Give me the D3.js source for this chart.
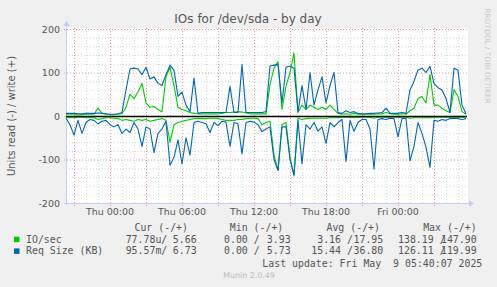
<!DOCTYPE html>
<html>
<head>
<meta charset="utf-8">
<script src="https://cdn.jsdelivr.net/npm/d3@7"></script>
<style>
    body { margin: 0; background: #f0f0f0; }
    text { font-family: "DejaVu Sans", sans-serif; }
    .mono { font-family: "DejaVu Sans Mono", monospace; font-size: 9.9px; fill: #555; }
</style>
</head>
<body>
<div id="chart"></div>
<script>
// samples every 20 minutes, Wed 20:20 -> Fri 05:40
const startTime = new Date(2025, 4, 7, 20, 20);
const endTime = new Date(2025, 4, 9, 5, 40);
const stepMinutes = 20;

// write (+) side
const writeIO = [4,4,4,3,3,4,4,4,18,6,4,3,3,4,
    5,20,50,40,55,75,30,20,22,15,10,
    90,112,70,20,15,12,8,6,5,
    5,5,5,5,5,6,8,8,9,10,9,7,5,5,5,5,
    5,72,110,125,15,68,100,145,8,25,15,25,20,15,20,15,25,15,6,4,5,4,6,4,4,
    4,4,4,5,5,8,5,4,4,5,4,12,18,40,45,30,95,25,25,18,12,8,60,45,10,4];
const writeSize = [6,6,6,5,5,6,6,6,7,6,5,4,4,5,
    8,60,108,110,108,95,112,85,90,75,70,
    95,117,105,45,55,25,10,87,6,
    8,8,8,8,8,8,8,68,8,8,118,8,8,8,8,8,
    10,115,117,118,30,112,115,110,10,70,15,100,25,60,90,30,70,100,8,6,12,8,10,6,5,
    5,6,6,7,8,18,6,6,6,8,6,60,80,106,110,100,114,75,65,60,40,8,110,105,25,5];

// read (-) side, stored as magnitudes
const readIO = [4,4,4,3,3,4,4,4,8,6,4,4,5,6,
    10,8,10,12,8,10,8,12,10,8,6,
    10,60,20,15,12,10,8,6,5,
    6,6,5,5,6,8,10,10,10,8,8,6,5,5,6,20,
    15,12,90,125,20,15,95,138,5,8,6,5,5,5,5,5,4,4,4,3,3,3,4,3,3,
    3,3,5,3,3,3,3,3,3,3,3,5,4,4,4,4,4,3,3,3,3,3,3,3,3,3];
const readSize = [5,20,44,10,40,15,8,10,18,12,10,20,25,20,
    40,30,38,15,30,70,25,30,84,40,30,
    12,113,95,55,110,50,90,15,12,
    15,18,38,15,22,12,14,70,15,18,87,15,12,14,20,36,
    30,25,100,125,25,25,100,135,10,110,20,30,15,35,25,63,15,25,15,8,105,10,35,15,8,
    8,30,122,8,6,8,5,6,48,6,5,103,70,15,40,72,118,10,12,8,10,6,5,6,8,6];

const yTicks = [-200, -100, 0, 100, 200];

const seriesNames = ["IO/sec", "Req Size (KB)"];
const legendHeaders = ["Cur (-/+)", "Min (-/+)", "Avg (-/+)", "Max (-/+)"];
const curValues = [["77.78u", "5.66"], ["95.57m", "6.73"]];
const minValues = [["0.00", "3.93"], ["0.00", "5.73"]];
const avgValues = [["3.16", "17.95"], ["15.44", "36.80"]];
const maxValues = [["138.19", "147.90"], ["126.11", "119.99"]];
const lastUpdate = "Last update: Fri May  9 05:40:07 2025";

const colors = ["#00cc00", "#0066b3"];

const width = 497, height = 287;
const plot = { left: 66, right: 466, top: 29, bottom: 203 };
const charW = 9.9 * 0.602;

const svg = d3.select("#chart").append("svg")
    .attr("width", width)
    .attr("height", height);

svg.append("rect").attr("width", width).attr("height", height).attr("fill", "#f0f0f0");
svg.append("rect")
    .attr("x", plot.left).attr("y", plot.top - 1)
    .attr("width", plot.right - plot.left + 2).attr("height", plot.bottom - plot.top + 1)
    .attr("fill", "#fff");

const x = d3.scaleTime().domain([startTime, endTime]).range([plot.left, plot.right]);
const y = d3.scaleLinear().domain([-200, 200]).range([plot.bottom, plot.top]);

const times = writeIO.map((d, i) => new Date(startTime.getTime() + i * stepMinutes * 60000));

// grid
const minorY = d3.range(-200, 201, 20).filter(v => v % 100 !== 0);
svg.append("g").selectAll("line").data(minorY).enter().append("line")
    .attr("x1", plot.left).attr("x2", plot.right + 2)
    .attr("y1", d => y(d) + 0.5).attr("y2", d => y(d) + 0.5)
    .attr("stroke", "#d6d6d6").attr("stroke-dasharray", "1,2");

const minorX = d3.timeHour.range(startTime, endTime).filter(t => t.getHours() % 3 !== 0);
svg.append("g").selectAll("line").data(minorX).enter().append("line")
    .attr("x1", d => Math.round(x(d)) + 0.5).attr("x2", d => Math.round(x(d)) + 0.5)
    .attr("y1", plot.top - 1).attr("y2", plot.bottom)
    .attr("stroke", "#d6d6d6").attr("stroke-dasharray", "1,2");

svg.append("g").selectAll("line").data(yTicks).enter().append("line")
    .attr("x1", plot.left - 2).attr("x2", plot.right + 2)
    .attr("y1", d => y(d) + 0.5).attr("y2", d => y(d) + 0.5)
    .attr("stroke", "#e6a3a3").attr("stroke-dasharray", "1,2");

const majorX = d3.timeHour.every(3).range(startTime, endTime);
svg.append("g").selectAll("line").data(majorX).enter().append("line")
    .attr("x1", d => Math.round(x(d)) + 0.5).attr("x2", d => Math.round(x(d)) + 0.5)
    .attr("y1", plot.top - 1).attr("y2", plot.bottom + 3)
    .attr("stroke", "#e6a3a3").attr("stroke-dasharray", "1,2");

// axes lines with arrows
svg.append("line")
    .attr("x1", plot.left - 2).attr("x2", plot.right + 4)
    .attr("y1", plot.bottom + 0.5).attr("y2", plot.bottom + 0.5)
    .attr("stroke", "#c8ccf4");
svg.append("line")
    .attr("x1", plot.left + 0.5).attr("x2", plot.left + 0.5)
    .attr("y1", plot.bottom + 2).attr("y2", plot.top - 5)
    .attr("stroke", "#c8ccf4");
svg.append("path")
    .attr("d", `M${plot.right + 3},${plot.bottom - 3} L${plot.right + 8},${plot.bottom + 0.5} L${plot.right + 3},${plot.bottom + 4} Z`)
    .attr("fill", "#c8ccf4");
svg.append("path")
    .attr("d", `M${plot.left - 3},${plot.top - 3} L${plot.left + 0.5},${plot.top - 8} L${plot.left + 4},${plot.top - 3} Z`)
    .attr("fill", "#c8ccf4");

// tick labels
svg.append("g").selectAll("text").data(yTicks).enter().append("text")
    .attr("x", 60).attr("y", d => y(d) + 3.5)
    .attr("text-anchor", "end")
    .attr("font-size", "9.5px").attr("fill", "#555")
    .text(d => d);

const labelX = d3.timeHour.every(6).range(startTime, endTime);
const fmt = d3.timeFormat("%a %H:%M");
svg.append("g").selectAll("text").data(labelX).enter().append("text")
    .attr("x", d => x(d)).attr("y", 215)
    .attr("text-anchor", "middle")
    .attr("font-size", "9.5px").attr("fill", "#555")
    .text(d => fmt(d));

// series
function drawLine(values, sign, color) {
    const line = d3.line()
        .x((d, i) => x(times[i]))
        .y(d => y(sign * d));
    svg.append("path")
        .datum(values)
        .attr("d", line)
        .attr("fill", "none")
        .attr("stroke", color)
        .attr("stroke-width", 1.1)
        .attr("stroke-linejoin", "round");
}
drawLine(readIO, -1, colors[0]);
drawLine(writeIO, 1, colors[0]);
drawLine(readSize, -1, colors[1]);
drawLine(writeSize, 1, colors[1]);

svg.append("line")
    .attr("x1", plot.left).attr("x2", plot.right + 1)
    .attr("y1", y(0) + 0.5).attr("y2", y(0) + 0.5)
    .attr("stroke", "#000").attr("stroke-width", 1.3);

// titles
svg.append("text")
    .attr("x", 248).attr("y", 23)
    .attr("text-anchor", "middle")
    .attr("font-size", "12px").attr("fill", "#555")
    .text("IOs for /dev/sda - by day");

svg.append("text")
    .attr("transform", "translate(15,116) rotate(-90)")
    .attr("text-anchor", "middle")
    .attr("font-size", "10px").attr("fill", "#555")
    .text("Units read (-) / write (+)");

svg.append("text")
    .attr("transform", "translate(485,56) rotate(90)")
    .attr("text-anchor", "middle")
    .attr("font-size", "7.4px").attr("fill", "#c8c8c8")
    .text("RRDTOOL / TOBI OETIKER");

// legend
const headerEnds = [188, 283.3, 380, 476.7];
const slashEnds = [167.4, 259.8, 353, 445.7];
const plusEnds = [196.7, 290.7, 383.3, 476.7];
const columns = [curValues, minValues, avgValues, maxValues];

svg.append("g").selectAll("text").data(legendHeaders).enter().append("text")
    .attr("class", "mono")
    .attr("x", (d, i) => headerEnds[i]).attr("y", 231)
    .attr("text-anchor", "end")
    .text(d => d);

seriesNames.forEach((name, r) => {
    const by = 242.7 + r * 11.7;
    svg.append("rect")
        .attr("x", 14).attr("y", by - 6)
        .attr("width", 5.5).attr("height", 5.5)
        .attr("fill", colors[r]);
    svg.append("text").attr("class", "mono")
        .attr("x", 26).attr("y", by).text(name);
    columns.forEach((col, c) => {
        const minus = col[r][0];
        const left = minus + (/\d$/.test(minus) ? " " : "") + "/";
        const plus = col[r][1];
        const cell = svg.append("text").attr("class", "mono")
            .attr("y", by)
            .attr("xml:space", "preserve")
            .style("white-space", "pre");
        cell.append("tspan")
            .attr("x", slashEnds[c] - left.length * charW)
            .text(left);
        cell.append("tspan")
            .attr("x", plusEnds[c] - plus.length * charW)
            .text(plus);
    });
});

svg.append("text").attr("class", "mono")
    .attr("x", 482.3).attr("y", 266.5)
    .attr("text-anchor", "end")
    .attr("xml:space", "preserve")
    .style("white-space", "pre")
    .text(lastUpdate);

svg.append("text")
    .attr("x", 249).attr("y", 278)
    .attr("text-anchor", "middle")
    .attr("font-size", "7.9px").attr("fill", "#bbb")
    .text("Munin 2.0.49");
</script>
</body>
</html>
